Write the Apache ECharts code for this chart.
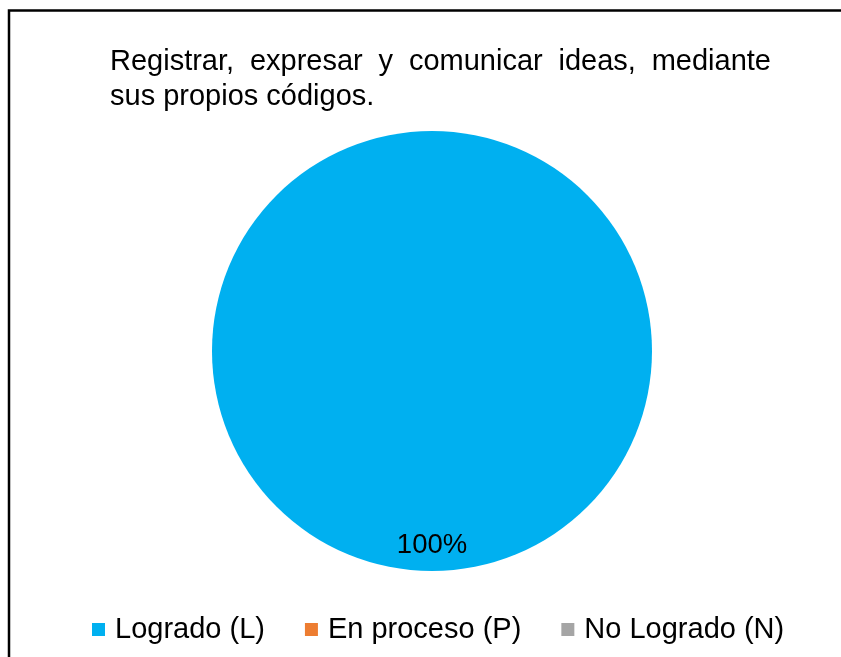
<!DOCTYPE html>
<html>
<head>
<meta charset="utf-8">
<script src="https://cdn.jsdelivr.net/npm/echarts@6/dist/echarts.min.js"></script>
<style>
  html, body { margin: 0; padding: 0; background: #fff; }
  #main { width: 841px; height: 657px; }
</style>
</head>
<body>
<div id="main"></div>
<script>
// datos
var categories = ['Logrado (L)', 'En proceso (P)', 'No Logrado (N)'];
var values = [100, 0, 0];
var colors = ['#00B0F0', '#ED7D31', '#A5A5A5'];
var titleLine1 = 'Registrar, expresar y comunicar ideas, mediante';
var titleLine2 = 'sus propios códigos.';

var FONT = 'Liberation Sans, Arial, sans-serif';
var titleSize = 29;

var chart = echarts.init(document.getElementById('main'));

// primera linea del titulo justificada (como en Excel)
function justifiedWords(text, x0, x1, y) {
  var ctx = document.createElement('canvas').getContext('2d');
  ctx.font = titleSize + 'px ' + FONT;
  var words = text.split(' ');
  var total = 0;
  words.forEach(function (w) { total += ctx.measureText(w).width; });
  var gap = (x1 - x0 - total) / (words.length - 1);
  var x = x0;
  return words.map(function (w) {
    var el = {
      type: 'text', left: x, top: y,
      style: { text: w, fontSize: titleSize, fontFamily: FONT, fill: '#000' }
    };
    x += ctx.measureText(w).width + gap;
    return el;
  });
}

var graphics = [{
  type: 'rect',
  shape: { x: 9, y: 10.5, width: 900, height: 700 },
  style: { fill: 'none', stroke: '#000', lineWidth: 2.5 },
  silent: true
}];
graphics = graphics.concat(justifiedWords(titleLine1, 110, 771, 47));
graphics.push({
  type: 'text', left: 110, top: 82,
  style: { text: titleLine2, fontSize: titleSize, fontFamily: FONT, fill: '#000' }
});

var option = {
  backgroundColor: '#fff',
  animation: false,
  graphic: graphics,
  legend: {
    data: categories,
    left: 87,
    top: 610,
    icon: 'rect',
    itemWidth: 13,
    itemHeight: 13,
    itemGap: 40,
    textStyle: { fontSize: 29, fontFamily: FONT, color: '#000', padding: [0, 0, 0, 5] }
  },
  color: colors,
  series: [{
    type: 'pie',
    center: [432, 351],
    radius: 220,
    startAngle: 90,
    clockwise: true,
    label: {
      position: 'inside',
      fontSize: 27.5,
      fontFamily: FONT,
      color: '#000',
      formatter: function (p) {
        return p.value > 0 ? Math.round(p.percent) + '%' : '';
      }
    },
    labelLayout: { dy: 81 },
    labelLine: { show: false },
    emphasis: { disabled: true },
    data: categories.map(function (c, i) {
      return { name: c, value: values[i] };
    })
  }]
};

chart.setOption(option);
</script>
</body>
</html>
